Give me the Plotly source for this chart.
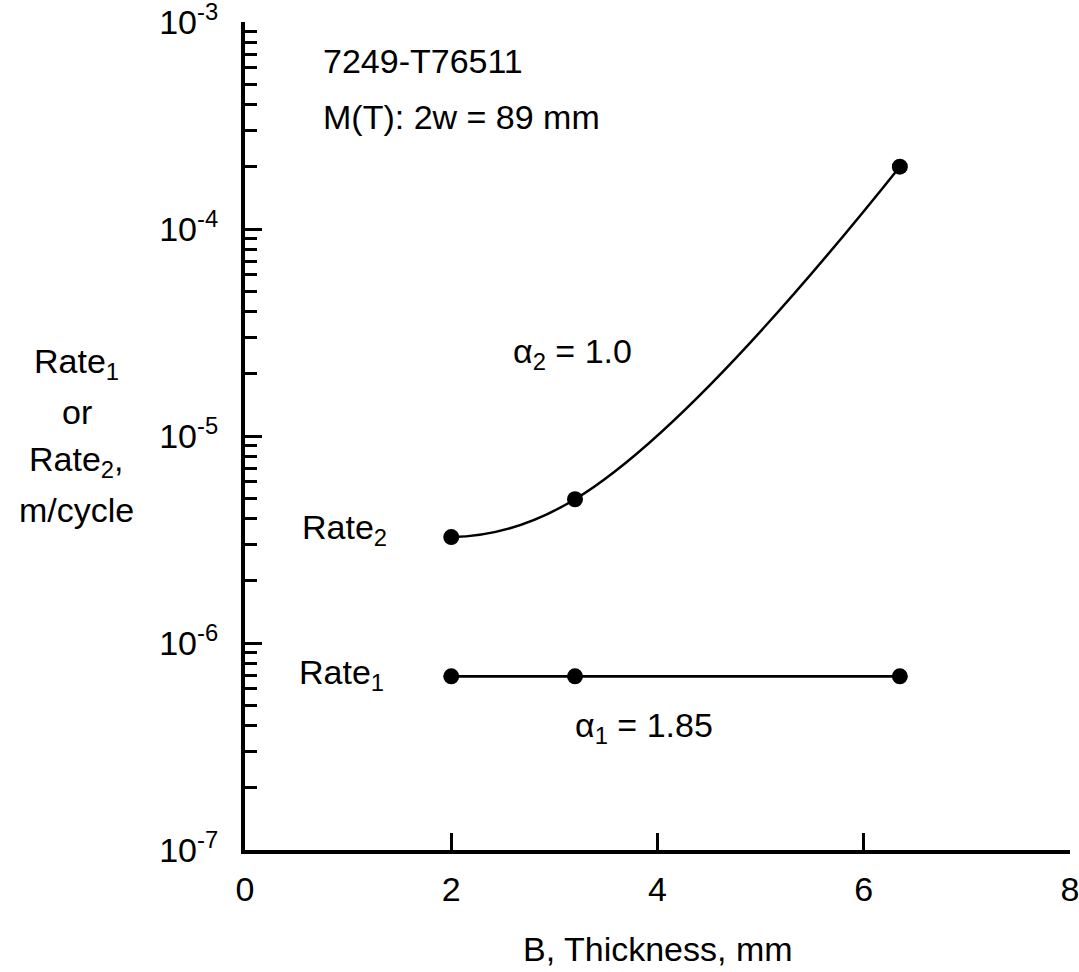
import plotly.graph_objects as go

# ---- data ----
thickness = [2.0, 3.2, 6.35]
rate1 = [6.9e-7, 6.9e-7, 6.9e-7]
rate2 = [3.25e-6, 4.95e-6, 2.0e-4]

x_ticks = [0, 2, 4, 6, 8]
y_tick_vals = [1e-7, 1e-6, 1e-5, 1e-4, 1e-3]
y_tick_text = ["10<sup>-7</sup>", "10<sup>-6</sup>", "10<sup>-5</sup>", "10<sup>-4</sup>", "10<sup>-3</sup>"]
y_minor_vals = [k * 10.0 ** e for e in range(-7, -3) for k in range(2, 10)]

FONT = "Liberation Sans, Arial, sans-serif"
FS = 34

fig = go.Figure()
fig.add_trace(go.Scatter(
    x=thickness, y=rate2, mode="lines+markers",
    line=dict(color="black", width=2.5, shape="spline", smoothing=1.3),
    marker=dict(color="black", size=16), showlegend=False, cliponaxis=False))
fig.add_trace(go.Scatter(
    x=thickness, y=rate1, mode="lines+markers",
    line=dict(color="black", width=2.8),
    marker=dict(color="black", size=16), showlegend=False, cliponaxis=False))

fig.update_layout(
    width=1079, height=972,
    margin=dict(l=245, r=9, t=22, b=122, autoexpand=False),
    paper_bgcolor="white", plot_bgcolor="white",
    font=dict(family=FONT, size=FS, color="black"),
    showlegend=False,
)
fig.update_xaxes(
    range=[0, 8], tickvals=x_ticks, ticks="inside", ticklen=17, tickwidth=3,
    tickcolor="black", showline=True, linewidth=4, linecolor="black",
    showgrid=False, zeroline=False, ticklabelstandoff=6,
    ticklabeloverflow="allow", automargin=False,
    tickfont=dict(family=FONT, size=FS, color="black"))
fig.update_yaxes(
    type="log", range=[-7, -3], tickvals=y_tick_vals, ticktext=y_tick_text,
    ticks="inside", ticklen=17, tickwidth=3, tickcolor="black",
    showline=True, linewidth=4, linecolor="black", showgrid=False, zeroline=False,
    ticklabelstandoff=16, ticklabeloverflow="allow", automargin=False,
    minor=dict(tickvals=y_minor_vals, ticks="inside", ticklen=12, tickwidth=3,
               tickcolor="black", showgrid=False),
    tickfont=dict(family=FONT, size=FS, color="black"))

def note(text, x, y, xanchor="left", xref="x", yref="y"):
    fig.add_annotation(text=text, x=x, y=y, xref=xref, yref=yref,
                       xanchor=xanchor, yanchor="middle", showarrow=False,
                       font=dict(family=FONT, size=FS, color="black"))

note("7249-T76511", 0.74, -3.19)
note("M(T): 2w = 89 mm", 0.74, -3.46)
note("α<sub>2</sub> = 1.0", 2.58, -4.60)
note("Rate<sub>2</sub>", 0.53, -5.45)
note("Rate<sub>1</sub>", 0.50, -6.15)
note("α<sub>1</sub> = 1.85", 3.18, -6.41)

# axis titles
note("B, Thickness, mm", 0.5, -0.12, xanchor="center", xref="paper", yref="paper")
for txt, py in [("Rate<sub>1</sub>", 363), ("or", 412), ("Rate<sub>2</sub>,", 461), ("m/cycle", 510)]:
    note(txt, -0.204, (850 - py) / 828, xanchor="center", xref="paper", yref="paper")

fig.write_html("out.html")
